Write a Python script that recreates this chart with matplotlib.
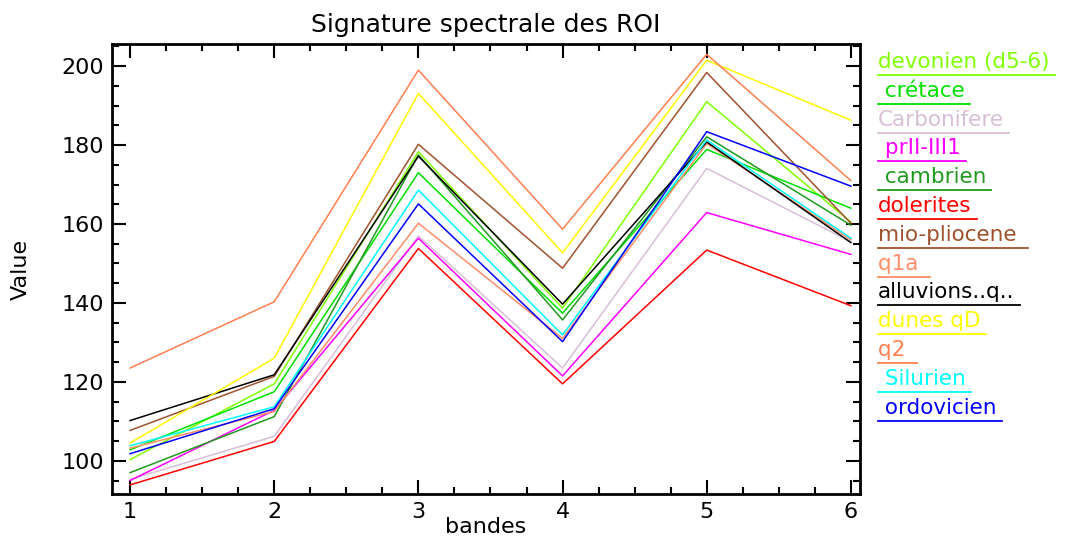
import numpy as np
import matplotlib.pyplot as plt
from matplotlib.ticker import MultipleLocator

bandes = [1, 2, 3, 4, 5, 6]

noms = ["devonien (d5-6)", " crétace", "Carbonifere", " prII-III1", " cambrien",
        "dolerites", "mio-pliocene ", "q1a ", "alluvions..q..", "dunes qD", "q2 ",
        " Silurien", " ordovicien"]
couleurs = ["#80ff00", "#00e000", "#d8bfd8", "#ff00ff", "#1f9a1f", "#ff0000",
            "#a0522d", "#ff8c69", "#000000", "#ffff00", "#ff7f50", "#00ffff", "#0000ff"]

devonien = [100.3, 119.5, 178.3, 138.7, 191.0, 160.5]
cretace = [102.8, 117.5, 173.0, 137.4, 178.9, 164.0]
carbonifere = [95.3, 106.2, 157.0, 123.5, 174.1, 155.5]
prII = [95.0, 112.8, 156.4, 121.5, 162.9, 152.3]
cambrien = [97.0, 111.2, 177.5, 135.7, 182.1, 159.7]
dolerites = [93.9, 104.9, 153.8, 119.5, 153.4, 139.3]
mio = [107.7, 121.4, 180.2, 148.8, 198.4, 160.2]
q1a = [103.2, 112.5, 160.2, 131.0, 180.4, 156.0]
alluvions = [110.2, 121.8, 177.2, 139.7, 180.8, 155.3]
dunes = [104.5, 126.0, 193.1, 152.7, 201.5, 186.3]
q2 = [123.5, 140.3, 199.0, 158.7, 203.0, 171.0]
silurien = [103.8, 113.7, 168.6, 131.9, 181.3, 156.4]
ordovicien = [101.8, 113.2, 165.1, 130.2, 183.4, 169.6]

series = [devonien, cretace, carbonifere, prII, cambrien, dolerites, mio,
          q1a, alluvions, dunes, q2, silurien, ordovicien]

fig = plt.figure(figsize=(10.88, 5.44), dpi=100)
ax = fig.add_axes([0.103, 0.092, 0.687, 0.827])

for vals, c in zip(series, couleurs):
    ax.plot(bandes, vals, color=c, lw=1.1)

ax.set_xlim(0.875, 6.06)
ax.set_ylim(91.6, 205.6)
ax.xaxis.set_major_locator(MultipleLocator(1))
ax.xaxis.set_minor_locator(MultipleLocator(0.25))
ax.yaxis.set_major_locator(MultipleLocator(20))
ax.yaxis.set_minor_locator(MultipleLocator(5))
ax.tick_params(which="both", direction="in", top=True, right=True, width=1.5)
ax.tick_params(which="major", length=10, labelsize=16, pad=6)
ax.tick_params(which="minor", length=5)
for s in ax.spines.values():
    s.set_linewidth(2)

ax.set_title("Signature spectrale des ROI", fontsize=18, pad=9)
ax.set_xlabel("bandes", fontsize=16, labelpad=-4)
ax.set_ylabel("Value", fontsize=16, labelpad=22)

# legende a droite, texte souligne de la couleur de la serie
y0 = 62
for i, (nom, c) in enumerate(zip(noms, couleurs)):
    yp = 1 - (y0 + i * 28.8) / 544
    t = fig.text(878 / 1088, yp, nom, color=c, fontsize=15.5, va="center", ha="left")
    fig.canvas.draw()
    bb = t.get_window_extent()
    fig.add_artist(plt.Line2D([878 / 1088, (bb.x1 + 5) / 1088],
                              [yp - 13 / 544, yp - 13 / 544], color=c, lw=1.3))

fig.savefig("out.png", dpi=100)
